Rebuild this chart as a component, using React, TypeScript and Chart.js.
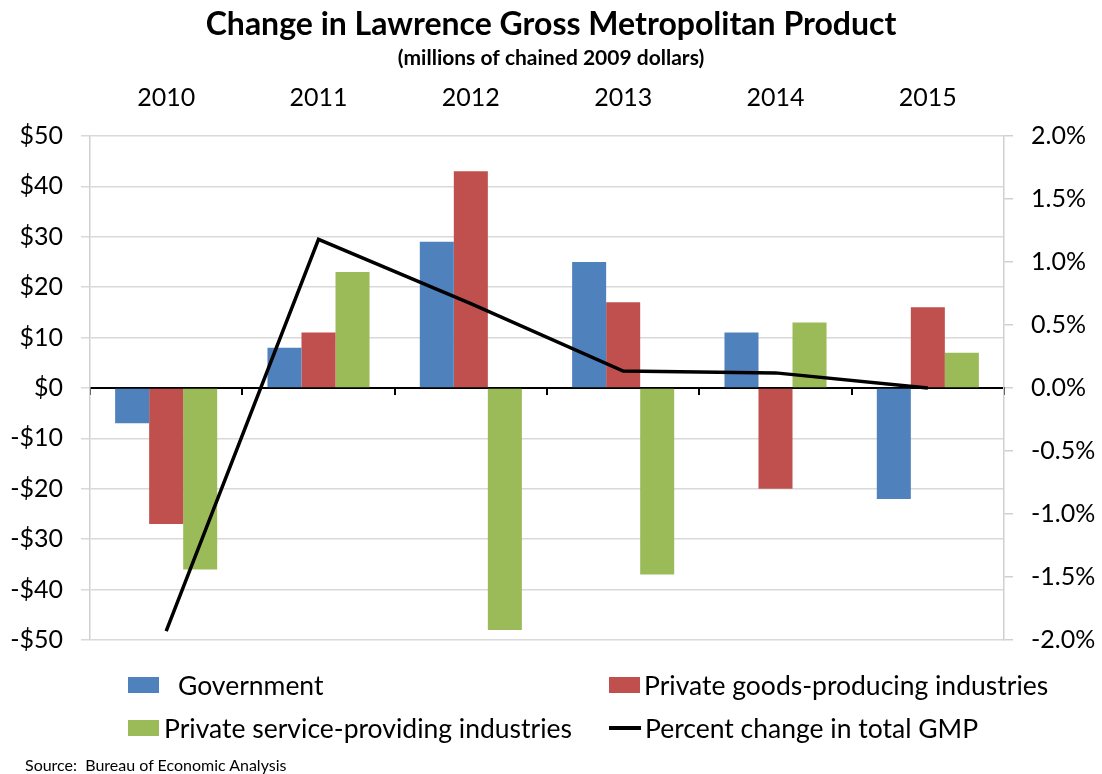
import React, { useEffect, useRef } from "react";
import { Chart, registerables } from "chart.js";

Chart.register(...registerables);

const categories = ["2010", "2011", "2012", "2013", "2014", "2015"];
const government = [-7, 8, 29, 25, 11, -22];
const goodsProducing = [-27, 11, 43, 17, -20, 16];
const serviceProviding = [-36, 23, -48, -37, 13, 7];
const percentChangeGMP = [-1.93, 1.18, 0.67, 0.135, 0.12, 0.0];

const seriesNames = [
  "Government",
  "Private goods-producing industries",
  "Private service-providing industries",
  "Percent change in total GMP",
];
const colors = ["#4F81BD", "#C0504D", "#9BBB59", "#000000"];

const titleText = "Change in Lawrence Gross Metropolitan Product";
const subtitleText = "(millions of chained 2009 dollars)";
const sourceText = "Source:  Bureau of Economic Analysis";

const FONT = "Lato";
const GRID = "#d9d9d9";

export default function App() {
  const canvasRef = useRef<HTMLCanvasElement | null>(null);

  useEffect(() => {
    document.body.style.margin = "0";
    const canvas = canvasRef.current;
    if (!canvas) return;
    const chart = new Chart(canvas, {
      type: "bar",
      data: {
        labels: categories,
        datasets: [
          {
            type: "line",
            label: seriesNames[3],
            data: percentChangeGMP,
            yAxisID: "y1",
            borderColor: colors[3],
            borderWidth: 3.5,
            pointRadius: 0,
            tension: 0,
            order: 0,
          } as any,
          {
            label: seriesNames[0],
            data: government,
            backgroundColor: colors[0],
            yAxisID: "y",
            order: 1,
          },
          {
            label: seriesNames[1],
            data: goodsProducing,
            backgroundColor: colors[1],
            yAxisID: "y",
            order: 1,
          },
          {
            label: seriesNames[2],
            data: serviceProviding,
            backgroundColor: colors[2],
            yAxisID: "y",
            order: 1,
          },
        ],
      },
      options: {
        responsive: false,
        animation: false,
        maintainAspectRatio: false,
        datasets: {
          bar: { barPercentage: 1, categoryPercentage: 0.67 },
        },
        layout: { padding: { left: 0, right: 0, top: 0, bottom: 134 } },
        plugins: {
          legend: { display: false },
          tooltip: { enabled: false },
          title: {
            display: true,
            text: titleText,
            color: "#000",
            font: { family: FONT, size: 32, weight: "bold", lineHeight: 1.2 },
            padding: { top: 5.3, bottom: 0 },
          },
          subtitle: {
            display: true,
            text: subtitleText,
            color: "#000",
            font: { family: FONT, size: 21, weight: "bold", lineHeight: 1.2 },
            padding: { top: 1.7, bottom: 0 },
          },
        },
        scales: {
          x: {
            type: "category",
            position: "top",
            offset: true,
            grid: { display: false, drawTicks: false },
            border: { display: false },
            ticks: {
              color: "#000",
              font: { family: FONT, size: 25 },
              padding: 23.5,
              maxRotation: 0,
            },
            afterFit: (s: any) => {
              s.height = 65.4;
            },
          },
          x2: {
            type: "category",
            labels: categories,
            position: { y: 0 } as any,
            offset: true,
            grid: {
              offset: true,
              drawOnChartArea: false,
              drawTicks: true,
              tickLength: 6,
              color: "#000",
              lineWidth: 2,
            },
            border: { display: true, color: "#000", width: 2 },
            ticks: { display: false },
          },
          y: {
            type: "linear",
            position: "left",
            min: -50,
            max: 50,
            ticks: {
              stepSize: 10,
              color: "#000",
              font: { family: FONT, size: 25 },
              padding: 18,
              callback: (v: any) => (v < 0 ? "-$" + Math.abs(v) : "$" + v),
            },
            grid: {
              color: (ctx: any) => (ctx.tick && ctx.tick.value === 0 ? "rgba(0,0,0,0)" : GRID),
              tickColor: GRID,
              tickLength: 9,
              lineWidth: 1.5,
            },
            border: { display: true, color: "#d0d0d0", width: 1.5 },
            afterFit: (s: any) => {
              s.width = 90;
            },
          },
          y1: {
            type: "linear",
            position: "right",
            min: -2,
            max: 2,
            ticks: {
              stepSize: 0.5,
              color: "#000",
              font: { family: FONT, size: 25 },
              padding: 18,
              callback: (v: any) => Number(v).toFixed(1) + "%",
            },
            grid: {
              drawOnChartArea: false,
              tickColor: "#d0d0d0",
              tickLength: 9,
              lineWidth: 1.5,
            },
            border: { display: true, color: "#d0d0d0", width: 1.5 },
            afterFit: (s: any) => {
              s.width = 98;
            },
          },
        },
      },
    });
    return () => chart.destroy();
  }, []);

  const legendItems = [
    { name: seriesNames[0], color: colors[0], left: 128, top: 669, kind: "box", gap: 19 },
    { name: seriesNames[1], color: colors[1], left: 609, top: 669, kind: "box", gap: 4 },
    { name: seriesNames[2], color: colors[2], left: 128, top: 712, kind: "box", gap: 5 },
    { name: seriesNames[3], color: colors[3], left: 609, top: 712, kind: "line", gap: 4 },
  ];

  return (
    <div style={{ position: "relative", width: 1102, height: 774, background: "#fff", overflow: "hidden" }}>
      <canvas ref={canvasRef} width={1102} height={774} style={{ display: "block" }} />
      {legendItems.map((it) => (
        <div
          key={it.name}
          style={{
            position: "absolute",
            left: it.left,
            top: it.top,
            height: 32,
            display: "flex",
            alignItems: "center",
            fontFamily: FONT,
            fontSize: 26.5,
            lineHeight: "32px",
            color: "#000",
            whiteSpace: "nowrap",
          }}
        >
          {it.kind === "box" ? (
            <span style={{ display: "inline-block", width: 31, height: 15.5, background: it.color, marginRight: it.gap }} />
          ) : (
            <span style={{ display: "inline-block", width: 32, height: 3.5, background: it.color, marginRight: it.gap }} />
          )}
          <span>{it.name}</span>
        </div>
      ))}
      <div
        style={{
          position: "absolute",
          left: 25,
          top: 755,
          fontFamily: FONT,
          fontSize: 16,
          lineHeight: "20px",
          color: "#000",
          whiteSpace: "pre",
        }}
      >
        {sourceText}
      </div>
    </div>
  );
}
